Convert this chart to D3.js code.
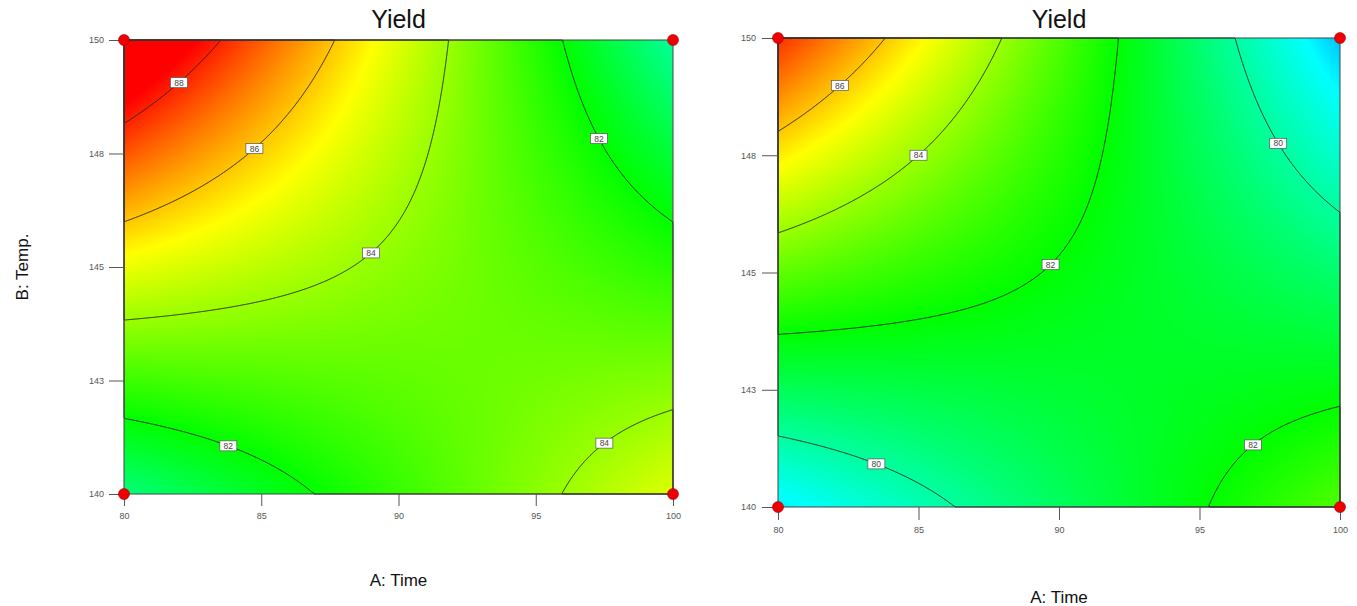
<!DOCTYPE html>
<html>
<head>
<meta charset="utf-8">
<title>Yield contour</title>
<script src="https://d3js.org/d3.v7.min.js"></script>
<style>
	body { margin: 0; background: #fff; }
	svg { font-family: Arial, "Liberation Sans", sans-serif; }
	.tick text { font-family: "Liberation Sans Narrow", "Arial Narrow", Arial, sans-serif; font-size: 9px; fill: #555; }
	.tick line { stroke: #555; }
</style>
</head>
<body>
<svg id="chart" width="1357" height="606"></svg>
<script>

// fitted model in coded units: Intercept, A, B, AB
var terms = ["Intercept", "A", "B", "AB"];
var coefLeft = [83.78, -1.30, 1.10, -3.52];
var coefRight = [81.92, -1.30, 1.10, -3.52];

var levelsLeft = [82, 84, 86, 88];
var levelsRight = [80, 82, 84, 86];

// contour labels: [level, A where the label sits]
var labelsLeft = [[88, 82.0], [86, 84.75], [84, 89.0], [82, 97.3], [82, 83.8], [84, 97.5]];
var labelsRight = [[86, 82.2], [84, 85.0], [82, 89.7], [80, 97.8], [80, 83.5], [82, 96.9]];

// design points
var designA = [80, 80, 100, 100];
var designB = [140, 150, 140, 150];

var timeTicks = [80, 85, 90, 95, 100];
var tempTicks = [140, 142.5, 145, 147.5, 150];
var tempTickLabels = ["140", "143", "145", "148", "150"];

var colorStops = [76.4, 78.8, 82.0, 85.3, 88.4];
var colorRange = ["#0000ff", "#00ffff", "#00ff00", "#ffff00", "#ff0000"];

var color = d3.scaleLinear().domain(colorStops).range(colorRange).clamp(true);

var svg = d3.select("#chart");

function drawPanel(p) {
	var x = d3.scaleLinear().domain([80, 100]).range([p.left, p.left + p.width]);
	var y = d3.scaleLinear().domain([140, 150]).range([p.top + p.height, p.top]);

	function predict(a, b) {
		var ca = (a - 90) / 10, cb = (b - 145) / 5;
		return p.coef[0] + p.coef[1] * ca + p.coef[2] * cb + p.coef[3] * ca * cb;
	}

	// grid of predicted values, one per pixel
	var w = p.width, h = p.height;
	var values = new Float64Array(w * h);
	var canvas = document.createElement("canvas");
	canvas.width = w; canvas.height = h;
	var ctx = canvas.getContext("2d");
	var img = ctx.createImageData(w, h);
	for (var j = 0; j < h; j++) {
		var b = y.invert(p.top + j + 0.5);
		for (var i = 0; i < w; i++) {
			var v = predict(x.invert(p.left + i + 0.5), b);
			values[j * w + i] = v;
			var c = d3.rgb(color(v));
			var k = (j * w + i) * 4;
			img.data[k] = c.r; img.data[k + 1] = c.g; img.data[k + 2] = c.b; img.data[k + 3] = 255;
		}
	}
	ctx.putImageData(img, 0, 0);

	var g = svg.append("g");
	g.append("image")
		.attr("x", p.left).attr("y", p.top)
		.attr("width", w).attr("height", h)
		.attr("preserveAspectRatio", "none")
		.attr("href", canvas.toDataURL());

	// contour lines
	var contours = d3.contours().size([w, h]).thresholds(p.levels)(values);
	var proj = d3.geoTransform({
		point: function (px, py) { this.stream.point(p.left + px, p.top + py); }
	});
	g.append("g").selectAll("path").data(contours)
		.enter().append("path")
		.attr("d", d3.geoPath(proj))
		.attr("fill", "none")
		.attr("stroke", "#222")
		.attr("stroke-width", 1);

	// frame
	g.append("rect")
		.attr("x", p.left).attr("y", p.top)
		.attr("width", w).attr("height", h)
		.attr("fill", "none").attr("stroke", "#444").attr("stroke-width", 1);

	// axes
	var xa = g.append("g")
		.attr("transform", "translate(0," + (p.top + h) + ")")
		.call(d3.axisBottom(x).tickValues(timeTicks).tickSize(p.xTick).tickPadding(7));
	xa.select(".domain").remove();

	var ya = g.append("g")
		.attr("transform", "translate(" + p.left + ",0)")
		.call(d3.axisLeft(y).tickValues(tempTicks).tickSize(p.yTick).tickPadding(p.yPad)
			.tickFormat(function (d, i) { return tempTickLabels[i]; }));
	ya.select(".domain").remove();

	// contour labels
	var lab = g.append("g").selectAll("g").data(p.labels)
		.enter().append("g")
		.attr("transform", function (d) {
			var ca = (d[1] - 90) / 10;
			var cb = (d[0] - p.coef[0] - p.coef[1] * ca) / (p.coef[2] + p.coef[3] * ca);
			return "translate(" + x(d[1]) + "," + y(145 + 5 * cb) + ")";
		});
	lab.append("rect")
		.attr("x", -8.5).attr("y", -5).attr("width", 17).attr("height", 10)
		.attr("fill", "#fff").attr("stroke", "#555").attr("stroke-width", 0.7);
	lab.append("text")
		.attr("text-anchor", "middle").attr("dy", "0.35em")
		.style("font-family", "\"Liberation Sans Narrow\", Arial, sans-serif")
		.style("font-size", "8.5px").style("fill", "#444")
		.text(function (d) { return d[0]; });

	// design points
	g.append("g").selectAll("circle").data(designA)
		.enter().append("circle")
		.attr("cx", function (d) { return x(d); })
		.attr("cy", function (d, i) { return y(designB[i]); })
		.attr("r", 5.5)
		.attr("fill", "#ee0000").attr("stroke", "#a00000").attr("stroke-width", 0.6);

	// texts
	svg.append("text")
		.attr("x", p.left + w / 2).attr("y", 28)
		.attr("text-anchor", "middle")
		.style("font-size", "25px").style("fill", "#111")
		.text("Yield");
	svg.append("text")
		.attr("x", p.left + w / 2).attr("y", p.xLabelY)
		.attr("text-anchor", "middle")
		.style("font-size", "17px").style("fill", "#111")
		.text("A: Time");
	if (p.yLabel) {
		svg.append("text")
			.attr("transform", "translate(28," + (p.top + h / 2) + ") rotate(-90)")
			.attr("text-anchor", "middle")
			.style("font-size", "17px").style("fill", "#111")
			.text(p.yLabel);
	}
}

drawPanel({ left: 124, top: 40, width: 549, height: 454, coef: coefLeft, levels: levelsLeft,
	labels: labelsLeft, xTick: 12, yTick: 15, yPad: 5, xLabelY: 586, yLabel: "B: Temp." });
drawPanel({ left: 778, top: 38, width: 562, height: 469, coef: coefRight, levels: levelsRight,
	labels: labelsRight, xTick: 13, yTick: 16, yPad: 6, xLabelY: 603, yLabel: null });

</script>
</body>
</html>
